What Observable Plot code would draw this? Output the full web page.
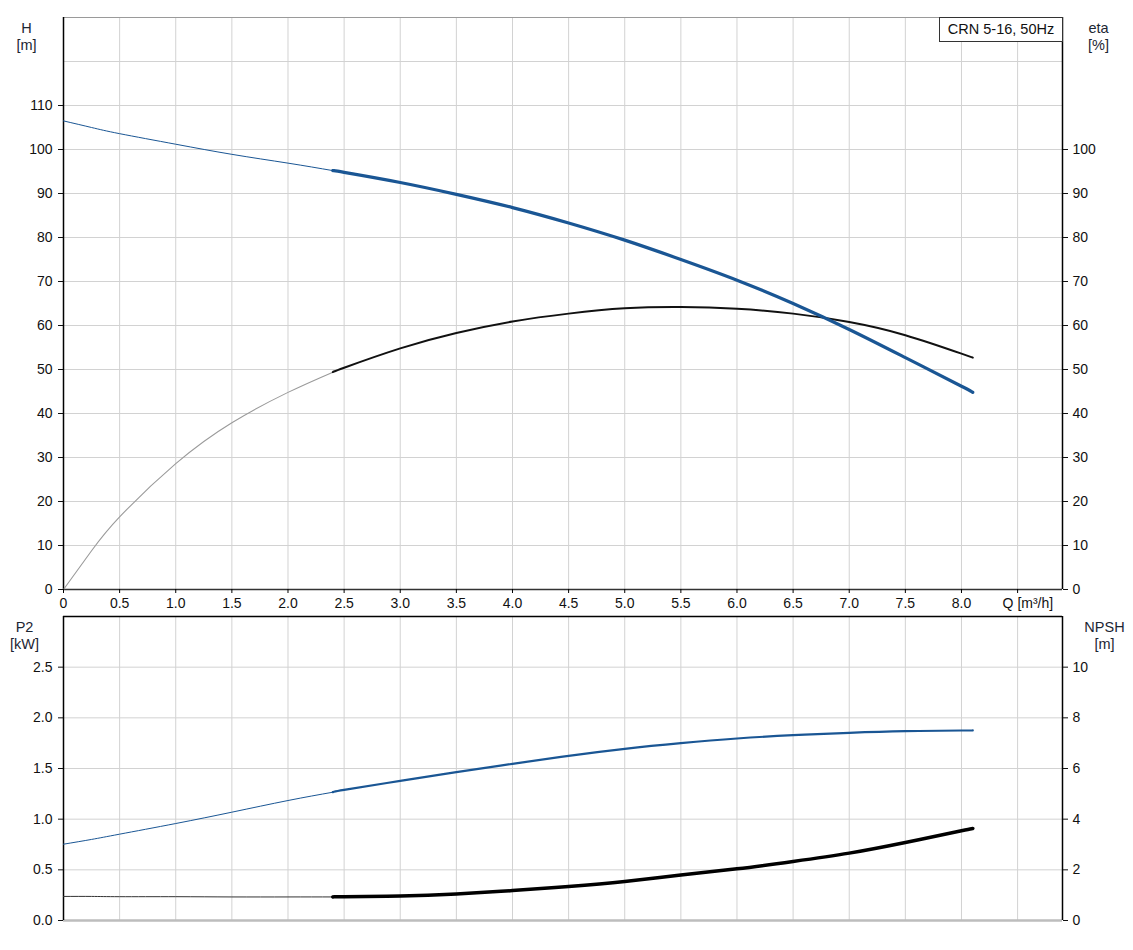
<!DOCTYPE html>
<html>
<head>
<meta charset="utf-8">
<script src="https://cdn.jsdelivr.net/npm/d3@7"></script>
<script src="https://cdn.jsdelivr.net/npm/@observablehq/plot@0.6"></script>
<style>
  html, body { margin: 0; padding: 0; background: #fff; }
  #wrap { position: relative; width: 1133px; height: 950px; font-family: "Liberation Sans", Arial, sans-serif; }
  #topPanel, #bottomPanel { position: absolute; left: 0; }
  #topPanel { top: 0; }
  #bottomPanel { top: 612px; }
  #topPanel svg, #bottomPanel svg { display: block; }
  #legend { position: absolute; left: 939px; top: 17px; width: 122px; height: 23px; border: 1px solid #333;
            background: #fff; font-size: 14.5px; line-height: 23px; text-align: center; color: #111; box-sizing: content-box; }
</style>
</head>
<body>
<div id="wrap">
  <div id="topPanel"></div>
  <div id="bottomPanel"></div>
  <div id="legend"></div>
</div>
<script>
// ---- data ----
const pumpName = "CRN 5-16, 50Hz";
const Q    = [0, 0.25, 0.5, 1.0, 1.5, 2.0, 2.4, 2.5, 3.0, 3.5, 4.0, 4.5, 5.0, 5.5, 6.0, 6.5, 7.0, 7.5, 8.0, 8.1];
const H    = [106.5, 105.0, 103.6, 101.2, 98.9, 96.9, 95.2, 94.8, 92.5, 89.8, 86.8, 83.3, 79.4, 75.0, 70.3, 65.0, 59.1, 52.7, 46.2, 44.8];
const ETA  = [0, 8.8, 16.5, 28.6, 37.9, 44.8, 49.4, 50.4, 54.8, 58.3, 60.9, 62.7, 63.9, 64.2, 63.8, 62.7, 60.8, 57.8, 53.6, 52.7];
const P2   = [0.753, 0.80, 0.852, 0.957, 1.069, 1.184, 1.266, 1.289, 1.378, 1.464, 1.546, 1.625, 1.694, 1.75, 1.796, 1.829, 1.852, 1.868, 1.875, 1.876];
const NPSH = [0.95, 0.95, 0.94, 0.94, 0.93, 0.93, 0.93, 0.94, 0.97, 1.05, 1.18, 1.34, 1.54, 1.80, 2.04, 2.33, 2.66, 3.08, 3.54, 3.63];
const opStart = 2.4; // start of the bold (operating) range

// axes / ticks
const qMax = 8.9;
const qTicks  = [0, 0.5, 1.0, 1.5, 2.0, 2.5, 3.0, 3.5, 4.0, 4.5, 5.0, 5.5, 6.0, 6.5, 7.0, 7.5, 8.0, 8.5];
const qTickLabels = ["0", "0.5", "1.0", "1.5", "2.0", "2.5", "3.0", "3.5", "4.0", "4.5", "5.0", "5.5", "6.0", "6.5", "7.0", "7.5", "8.0", ""];
const qLabelAt = 8.5;
const qLabel = "Q [m³/h]";
const hMax = 130;
const hTicks = [0, 10, 20, 30, 40, 50, 60, 70, 80, 90, 100, 110];
const hGrid  = [0, 10, 20, 30, 40, 50, 60, 70, 80, 90, 100, 110, 120];
const etaTicks = [0, 10, 20, 30, 40, 50, 60, 70, 80, 90, 100];
const p2Max = 3.0;
const p2Ticks = [0, 0.5, 1.0, 1.5, 2.0, 2.5];
const p2Labels = ["0.0", "0.5", "1.0", "1.5", "2.0", "2.5"];
const npshLabels = ["0", "2", "4", "6", "8", "10"];
const npshPerKW = 4; // right axis: 10 m NPSH == 2.5 kW
const hTitle = "H\n[m]", etaTitle = "eta\n[%]", p2Title = "P2\n[kW]", npshTitle = "NPSH\n[m]";

// ---- build rows ----
const rows = Q.map((q, i) => ({q, h: H[i], eta: ETA[i], p2: P2[i], npsh: NPSH[i], npshScaled: NPSH[i] / npshPerKW}));
const thinPart = rows.filter(r => r.q <= opStart);
const thickPart = rows.filter(r => r.q >= opStart);

const BLUE = "#1a5694";
const GRID = "#d2d2d2";
const CURVE = "natural";
const font = {fontFamily: "'Liberation Sans', Arial, sans-serif", fontSize: "14px", color: "#111", background: "#fff", overflow: "visible"};
const titleStyle = {fontSize: 14.5, fill: "#1c2633", lineHeight: 1.2, lineAnchor: "top"};

const topChart = Plot.plot({
  width: 1133, height: 612,
  marginLeft: 63, marginRight: 71, marginTop: 17, marginBottom: 23,
  style: font,
  x: {domain: [0, qMax], label: null},
  y: {domain: [0, hMax], label: null},
  marks: [
    Plot.gridX({ticks: qTicks, stroke: GRID, strokeOpacity: 1}),
    Plot.gridY({ticks: hGrid, stroke: GRID, strokeOpacity: 1}),
    Plot.ruleY([hMax], {stroke: "#9a9a9a"}),
    Plot.ruleY([0], {stroke: "#333", strokeWidth: 1.5}),
    Plot.ruleX([0], {stroke: "#000", strokeWidth: 1.5}),
    Plot.ruleX([qMax], {stroke: "#000", strokeWidth: 1.5}),
    Plot.line(thinPart, {x: "q", y: "eta", stroke: "#9a9a9a", strokeWidth: 1.1, curve: CURVE}),
    Plot.line(thickPart, {x: "q", y: "eta", stroke: "#111", strokeWidth: 2, curve: CURVE}),
    Plot.line(thinPart, {x: "q", y: "h", stroke: BLUE, strokeWidth: 1, curve: CURVE}),
    Plot.line(thickPart, {x: "q", y: "h", stroke: BLUE, strokeWidth: 3.2, curve: CURVE}),
    Plot.axisX({ticks: qTicks, tickFormat: (d, i) => qTickLabels[i], tickSize: 4, tickPadding: 5, stroke: "#000", label: null}),
    Plot.axisY({anchor: "left", ticks: hTicks, tickFormat: d => String(d), tickSize: 5, tickPadding: 6, label: null}),
    Plot.axisY({anchor: "right", ticks: etaTicks, tickFormat: d => String(d), tickSize: 5, tickPadding: 5, label: null}),
    Plot.text([qLabelAt], {x: d => d, frameAnchor: "bottom", dy: 9, dx: -15, lineAnchor: "top", textAnchor: "start", text: () => qLabel, fill: "#111"}),
    Plot.text([hTitle], {frameAnchor: "top-left", dx: -37, dy: 3, textAnchor: "middle", ...titleStyle}),
    Plot.text([etaTitle], {frameAnchor: "top-right", dx: 36, dy: 3, textAnchor: "middle", ...titleStyle})
  ]
});
document.getElementById("topPanel").append(topChart);

const bottomChart = Plot.plot({
  width: 1133, height: 338,
  marginLeft: 63, marginRight: 71, marginTop: 4, marginBottom: 30,
  style: font,
  x: {domain: [0, qMax], label: null, axis: null},
  y: {domain: [0, p2Max], label: null},
  marks: [
    Plot.gridX({ticks: qTicks, stroke: GRID, strokeOpacity: 1}),
    Plot.gridY({ticks: p2Ticks, stroke: GRID, strokeOpacity: 1}),
    Plot.ruleY([0], {stroke: "#bdbdbd", strokeWidth: 2.5}),
    Plot.ruleY([p2Max], {stroke: "#000", strokeWidth: 1.5}),
    Plot.ruleX([0], {stroke: "#000", strokeWidth: 1.5}),
    Plot.ruleX([qMax], {stroke: "#000", strokeWidth: 1.5}),
    Plot.line(thinPart, {x: "q", y: "npshScaled", stroke: "#333", strokeWidth: 1, curve: CURVE}),
    Plot.line(thickPart, {x: "q", y: "npshScaled", stroke: "#000", strokeWidth: 3.5, curve: CURVE}),
    Plot.line(thinPart, {x: "q", y: "p2", stroke: BLUE, strokeWidth: 1, curve: CURVE}),
    Plot.line(thickPart, {x: "q", y: "p2", stroke: BLUE, strokeWidth: 2.2, curve: CURVE}),
    Plot.axisY({anchor: "left", ticks: p2Ticks, tickFormat: (d, i) => p2Labels[i], tickSize: 5, tickPadding: 6, label: null}),
    Plot.axisY({anchor: "right", ticks: p2Ticks, tickFormat: (d, i) => npshLabels[i], tickSize: 5, tickPadding: 5, label: null}),
    Plot.text([p2Title], {frameAnchor: "top-left", dx: -39, dy: 3, textAnchor: "middle", ...titleStyle}),
    Plot.text([npshTitle], {frameAnchor: "top-right", dx: 42, dy: 3, textAnchor: "middle", ...titleStyle})
  ]
});
document.getElementById("bottomPanel").append(bottomChart);

document.getElementById("legend").textContent = pumpName;
</script>
</body>
</html>
